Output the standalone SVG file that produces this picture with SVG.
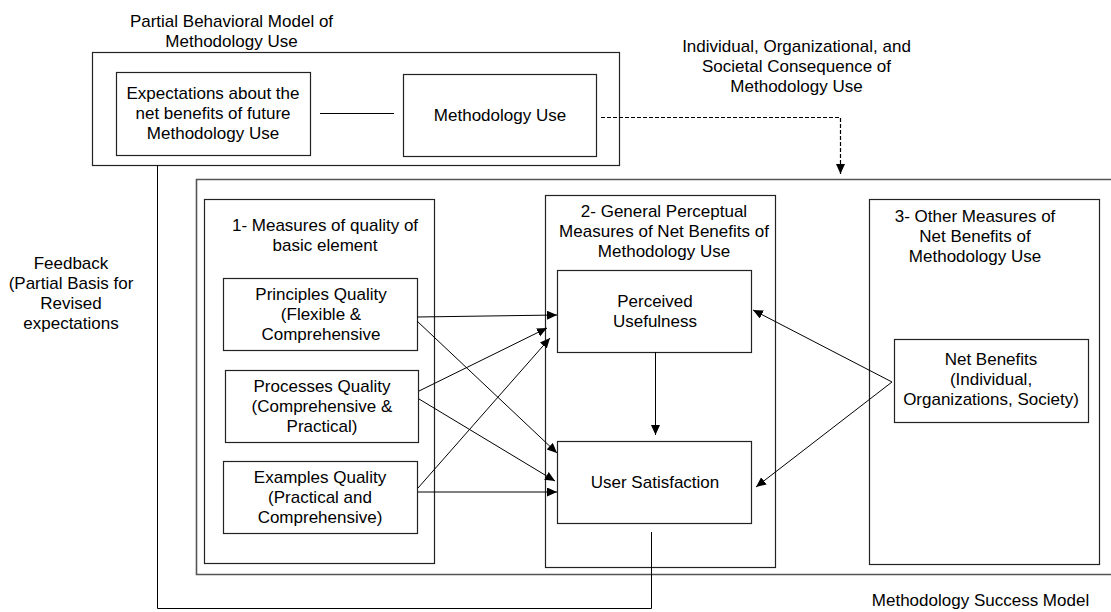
<svg xmlns="http://www.w3.org/2000/svg" width="1111" height="612" viewBox="0 0 1111 612">
<style>
.t{font-family:"Liberation Sans",Arial,Helvetica,sans-serif;font-size:17px;fill:#000;text-anchor:middle}
.b{fill:none;stroke:#222;stroke-width:1.2}
.c{fill:none;stroke:#000;stroke-width:1}
.d{fill:none;stroke:#000;stroke-width:1.2;stroke-dasharray:4,2}
.o{fill:none;stroke:#555;stroke-width:1.6}
</style>
<defs>
<marker id="ah" markerUnits="userSpaceOnUse" markerWidth="11" markerHeight="10" refX="10" refY="4.5" orient="auto"><path d="M0,0 L10,4.5 L0,9 z" fill="#000"/></marker>
</defs>
<rect width="1111" height="612" fill="#fff"/>

<g id="partial-model">
<rect class="b" x="92.5" y="52.5" width="527" height="113"/>
<text class="t" x="231.5" y="27">Partial Behavioral Model of</text>
<text class="t" x="231.5" y="47">Methodology Use</text>
</g>
<g id="expectations">
<rect class="b" x="116.5" y="72.5" width="194" height="83"/>
<text class="t" x="213" y="99">Expectations about the</text>
<text class="t" x="213" y="119">net benefits of future</text>
<text class="t" x="213" y="139">Methodology Use</text>
</g>
<g id="methodology-use">
<rect class="b" x="403.5" y="74.5" width="193" height="82"/>
<text class="t" x="500" y="121">Methodology Use</text>
</g>
<g id="consequence-label">
<text class="t" x="796.5" y="52">Individual, Organizational, and</text>
<text class="t" x="796.5" y="72">Societal Consequence of</text>
<text class="t" x="796.5" y="92">Methodology Use</text>
</g>
<g id="success-model">
<path class="o" d="M1115,179.5 H196.5 V574.5 H1115"/>
<text class="t" x="980.5" y="606">Methodology Success Model</text>
</g>
<g id="feedback-label">
<text class="t" x="71" y="269">Feedback</text>
<text class="t" x="71" y="289">(Partial Basis for</text>
<text class="t" x="71" y="309">Revised</text>
<text class="t" x="71" y="329">expectations</text>
</g>
<g id="box1">
<rect class="b" x="204.5" y="199.5" width="230" height="364"/>
<text class="t" x="325" y="231">1- Measures of quality of</text>
<text class="t" x="325" y="251">basic element</text>
</g>
<g id="principles">
<rect class="b" x="223.5" y="278.5" width="194" height="72"/>
<text class="t" x="321" y="300">Principles Quality</text>
<text class="t" x="321" y="320">(Flexible &amp;</text>
<text class="t" x="321" y="340">Comprehensive</text>
</g>
<g id="processes">
<rect class="b" x="225.5" y="370.5" width="193" height="72"/>
<text class="t" x="322" y="392">Processes Quality</text>
<text class="t" x="322" y="412">(Comprehensive &amp;</text>
<text class="t" x="322" y="432">Practical)</text>
</g>
<g id="examples">
<rect class="b" x="223.5" y="461.5" width="194" height="72"/>
<text class="t" x="320" y="483">Examples Quality</text>
<text class="t" x="320" y="503">(Practical and</text>
<text class="t" x="320" y="523">Comprehensive)</text>
</g>
<g id="box2">
<rect class="b" x="545.5" y="195.5" width="230" height="372"/>
<text class="t" x="664" y="217">2- General Perceptual</text>
<text class="t" x="664" y="237">Measures of Net Benefits of</text>
<text class="t" x="664" y="257">Methodology Use</text>
</g>
<g id="perceived-usefulness">
<rect class="b" x="557.5" y="270.5" width="194" height="82"/>
<text class="t" x="655" y="307">Perceived</text>
<text class="t" x="655" y="327">Usefulness</text>
</g>
<g id="user-satisfaction">
<rect class="b" x="557.5" y="441.5" width="194" height="82"/>
<text class="t" x="655" y="488">User Satisfaction</text>
</g>
<g id="box3">
<rect class="b" x="869.5" y="199.5" width="230" height="365"/>
<text class="t" x="975" y="222">3- Other Measures of</text>
<text class="t" x="975" y="242">Net Benefits of</text>
<text class="t" x="975" y="262">Methodology Use</text>
</g>
<g id="net-benefits">
<rect class="b" x="894.5" y="339.5" width="194" height="83"/>
<text class="t" x="991" y="365">Net Benefits</text>
<text class="t" x="991" y="385">(Individual,</text>
<text class="t" x="991" y="405">Organizations, Society)</text>
</g>

<g id="connectors">
<line class="c" x1="320" y1="113.5" x2="394" y2="113.5"/>
<path class="d" d="M601,117.5 H840.5 V174" marker-end="url(#ah)"/>
<path class="c" d="M157.5,165 V608.5 H651.5 V532"/>
<line class="c" x1="417" y1="317" x2="557" y2="315" marker-end="url(#ah)"/>
<line class="c" x1="417" y1="321" x2="557" y2="453" marker-end="url(#ah)"/>
<line class="c" x1="419" y1="391" x2="547" y2="328" marker-end="url(#ah)"/>
<line class="c" x1="419" y1="399" x2="555" y2="481" marker-end="url(#ah)"/>
<line class="c" x1="418" y1="488" x2="550" y2="338" marker-end="url(#ah)"/>
<line class="c" x1="418" y1="492" x2="557" y2="492" marker-end="url(#ah)"/>
<line class="c" x1="655.5" y1="352" x2="655.5" y2="435" marker-end="url(#ah)"/>
<line class="c" x1="892" y1="382" x2="753" y2="310" marker-end="url(#ah)"/>
<line class="c" x1="892" y1="382" x2="756" y2="487" marker-end="url(#ah)"/>
</g>
</svg>
